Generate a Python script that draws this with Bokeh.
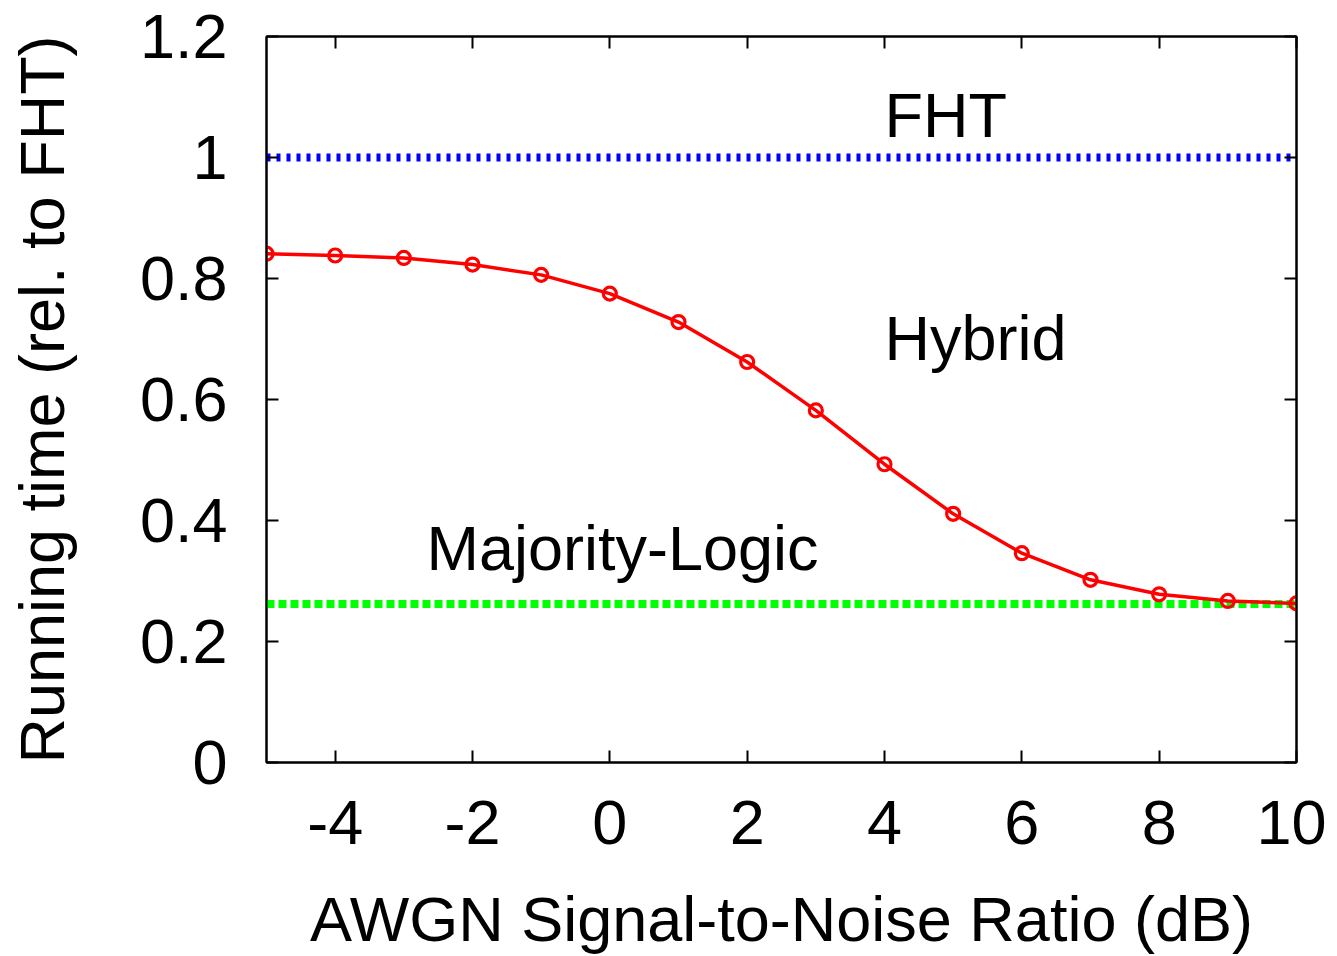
from bokeh.plotting import figure
from bokeh.models import LinearAxis, FixedTicker, CustomJSTickFormatter, Range1d
from bokeh.core.properties import value
from bokeh.embed import file_html
from bokeh.resources import INLINE

# ---- data ----
snr_db = [-5, -4, -3, -2, -1, 0, 1, 2, 3, 4, 5, 6, 7, 8, 9, 10]
hybrid_time = [0.841, 0.838, 0.834, 0.823, 0.806, 0.775, 0.728, 0.662,
               0.582, 0.493, 0.411, 0.346, 0.302, 0.278, 0.267, 0.263]
fht_time = [1.0, 1.0]
majority_time = [0.262, 0.262]
x_extent = [-5, 10]
x_ticks = [-4, -2, 0, 2, 4, 6, 8, 10]
y_ticks = [0, 0.2, 0.4, 0.6, 0.8, 1.0, 1.2]
series_names = ["FHT", "Hybrid", "Majority-Logic"]
x_title = "AWGN Signal-to-Noise Ratio (dB)"
y_title = "Running time (rel. to FHT)"

FONT = "Liberation Sans"
FS = "63px"

p = figure(frame_width=1030, frame_height=726,
           x_range=Range1d(-5, 10), y_range=Range1d(0, 1.2),
           output_backend="svg", toolbar_location=None,
           min_border_left=266, min_border_top=36,
           min_border_right=30, min_border_bottom=192,
           background_fill_color="white", border_fill_color="white")
p.xgrid.grid_line_color = None
p.ygrid.grid_line_color = None
p.outline_line_color = "black"
p.outline_line_width = 2

label_fmt = CustomJSTickFormatter(code="return String(Math.round(tick*10)/10)")
blank_fmt = CustomJSTickFormatter(code="return ''")

bottom_ax = p.below[0]
left_ax = p.left[0]
right_ax = LinearAxis()
top_ax = LinearAxis()
p.add_layout(right_ax, "right")
p.add_layout(top_ax, "above")

for ax in [bottom_ax, left_ax, right_ax, top_ax]:
    ax.axis_line_width = 2
    ax.axis_line_color = "black"
    ax.major_tick_in = 12
    ax.major_tick_out = 0
    ax.minor_tick_in = 0
    ax.minor_tick_out = 0
    ax.major_tick_line_width = 2
    ax.major_tick_line_color = "black"
    ax.major_label_text_font = FONT
    ax.major_label_text_font_size = FS
    ax.major_label_text_color = "black"
    ax.axis_label_text_font = FONT
    ax.axis_label_text_font_size = FS
    ax.axis_label_text_font_style = "normal"
    ax.axis_label_text_color = "black"

bottom_ax.ticker = FixedTicker(ticks=x_ticks)
bottom_ax.formatter = label_fmt
bottom_ax.major_label_standoff = 38
bottom_ax.axis_label = x_title
bottom_ax.axis_label_standoff = 37

left_ax.ticker = FixedTicker(ticks=y_ticks)
left_ax.formatter = label_fmt
left_ax.major_label_standoff = 39
left_ax.axis_label = y_title
left_ax.axis_label_standoff = 60

top_ax.ticker = FixedTicker(ticks=x_ticks)
top_ax.formatter = blank_fmt
top_ax.major_label_text_font_size = "0px"
right_ax.ticker = FixedTicker(ticks=y_ticks)
right_ax.formatter = blank_fmt
right_ax.major_label_text_font_size = "0px"

# reference lines
p.line(x_extent, fht_time, line_color="#0000ff", line_width=8, line_dash="4 6")
p.line(x_extent, majority_time, line_color="#00ff00", line_width=8, line_dash="8 4")

# hybrid curve
p.line(snr_db, hybrid_time, line_color="#ff0000", line_width=3.5)
p.scatter(snr_db, hybrid_time, marker="circle", size=13, line_color="#ff0000",
          line_width=3.2, fill_color=None)

# in-plot labels (y_offset compensates the svg baseline shift)
common = dict(text_font=value(FONT), text_font_size=FS, text_baseline="alphabetic",
              text_align="left", text_color="black", y_offset=-22)
p.text(x=[4.0], y=[1.034], text=[series_names[0]], **common)
p.text(x=[4.0], y=[0.666], text=[series_names[1]], **common)
p.text(x=[-2.67], y=[0.319], text=[series_names[2]], **common)

open("out.html", "w").write(file_html(p, INLINE))
